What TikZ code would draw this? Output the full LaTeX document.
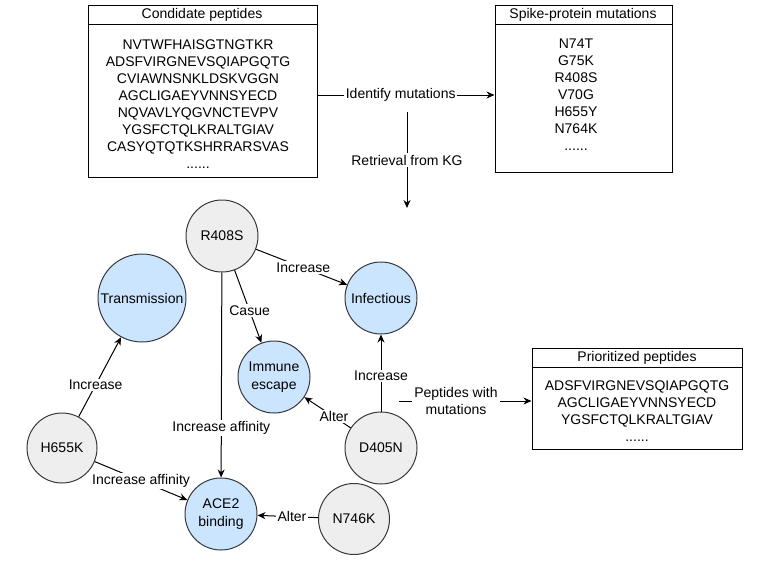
\documentclass[tikz,border=0pt]{standalone}
\usepackage{fontspec}
\setmainfont{Liberation Sans}
\usetikzlibrary{arrows.meta,calc}
\definecolor{bluefill}{HTML}{CCE5FF}
\definecolor{grayfill}{HTML}{EEEEEE}
\definecolor{nodestroke}{HTML}{36393D}
\begin{document}
\begin{tikzpicture}[x=1pt,y=-1pt,
  font=\fontsize{14}{17}\selectfont,
  mutnode/.style={circle, draw=nodestroke, fill=grayfill, line width=1pt, minimum size=72pt, inner sep=0pt, align=center},
  effnode/.style={circle, draw=nodestroke, fill=bluefill, line width=1pt, minimum size=72pt, inner sep=0pt, align=center, font=\fontsize{14}{18}\selectfont},
  elabel/.style={fill=white, inner sep=1.5pt},
  arr/.style={-{Stealth[length=8pt,width=7pt]}, line width=1pt},
  boxframe/.style={draw, line width=1pt, inner sep=0pt}
]
\useasboundingbox (0,0) rectangle (769,562);

% ---------- boxes ----------
\node[boxframe, minimum width=229pt, minimum height=172pt] (cand) at (202.5,91) {};
\draw[line width=1pt] ($(cand.north west)+(0,20)$) -- ($(cand.north east)+(0,20)$);
\node (candh) at (202,15) {Condidate peptides};
\node[align=center] (candb) at (198,104.5) {NVTWFHAISGTNGTKR\\ADSFVIRGNEVSQIAPGQTG\\CVIAWNSNKLDSKVGGN\\AGCLIGAEYVNNSYECD\\NQVAVLYQGVNCTEVPV\\YGSFCTQLKRALTGIAV\\CASYQTQTKSHRRARSVAS\\......};

\node[boxframe, minimum width=177pt, minimum height=167pt] (mut) at (583.5,88.5) {};
\draw[line width=1pt] ($(mut.north west)+(0,20)$) -- ($(mut.north east)+(0,20)$);
\node (muth) at (583,15) {Spike-protein mutations};
\node[align=center] (mutb) at (576,95) {N74T\\G75K\\R408S\\V70G\\H655Y\\N764K\\......};

\node[boxframe, minimum width=210pt, minimum height=101pt] (prio) at (637,398.5) {};
\draw[line width=1pt] ($(prio.north west)+(0,20)$) -- ($(prio.north east)+(0,20)$);
\node (prioh) at (637,358) {Prioritized peptides};
\node[align=center] (priob) at (637,411) {ADSFVIRGNEVSQIAPGQTG\\AGCLIGAEYVNNSYECD\\YGSFCTQLKRALTGIAV\\......};

% ---------- top connectors ----------
\coordinate (idy) at (0,95);
\draw[arr] (cand.east |- idy) -- node[elabel,pos=0.47]{Identify mutations} (mut.west |- idy);
\coordinate (r1) at (407,112);
\coordinate (r2) at (407,208);
\draw[arr] (r1) -- node[elabel]{Retrieval from KG} (r2);

% ---------- graph nodes ----------
\node[mutnode] (R408S) at (222,236) {R408S};
\node[effnode, minimum size=88pt] (Trans) at (142,298) {Transmission};
\node[effnode] (Inf) at (381,298) {Infectious};
\node[effnode] (Imm) at (274,377) {Immune\\escape};
\node[mutnode, minimum size=70pt] (H655K) at (62,448) {H655K};
\node[mutnode] (D405N) at (381,448) {D405N};
\node[effnode] (ACE2) at (221,514) {ACE2\\binding};
\node[mutnode, minimum size=71pt] (N746K) at (354,519) {N746K};

% ---------- graph edges ----------
\draw[arr] (R408S) -- node[elabel,pos=0.52]{Increase} (Inf);
\draw[arr] (R408S) -- node[elabel,pos=0.56]{Casue} (Imm);
\draw[arr] (R408S) -- node[elabel,pos=0.76]{Increase affinity} (ACE2);
\draw[arr] (H655K) -- node[elabel,pos=0.40]{Increase} (Trans);
\draw[arr] (H655K) -- node[elabel,pos=0.50]{Increase affinity} (ACE2);
\draw[arr] (D405N) -- node[elabel,pos=0.46]{Increase} (Inf);
\draw[arr] (D405N) -- node[elabel,pos=0.36]{Alter} (Imm);
\draw[arr] (N746K) -- node[elabel,pos=0.43]{Alter} (ACE2);

% ---------- output connector ----------
\coordinate (p1) at (399,401);
\draw[arr] (p1) -- node[elabel, inner sep=2pt, align=center, pos=0.43]{Peptides with\\mutations} (prio.west |- p1);
\end{tikzpicture}
\end{document}
